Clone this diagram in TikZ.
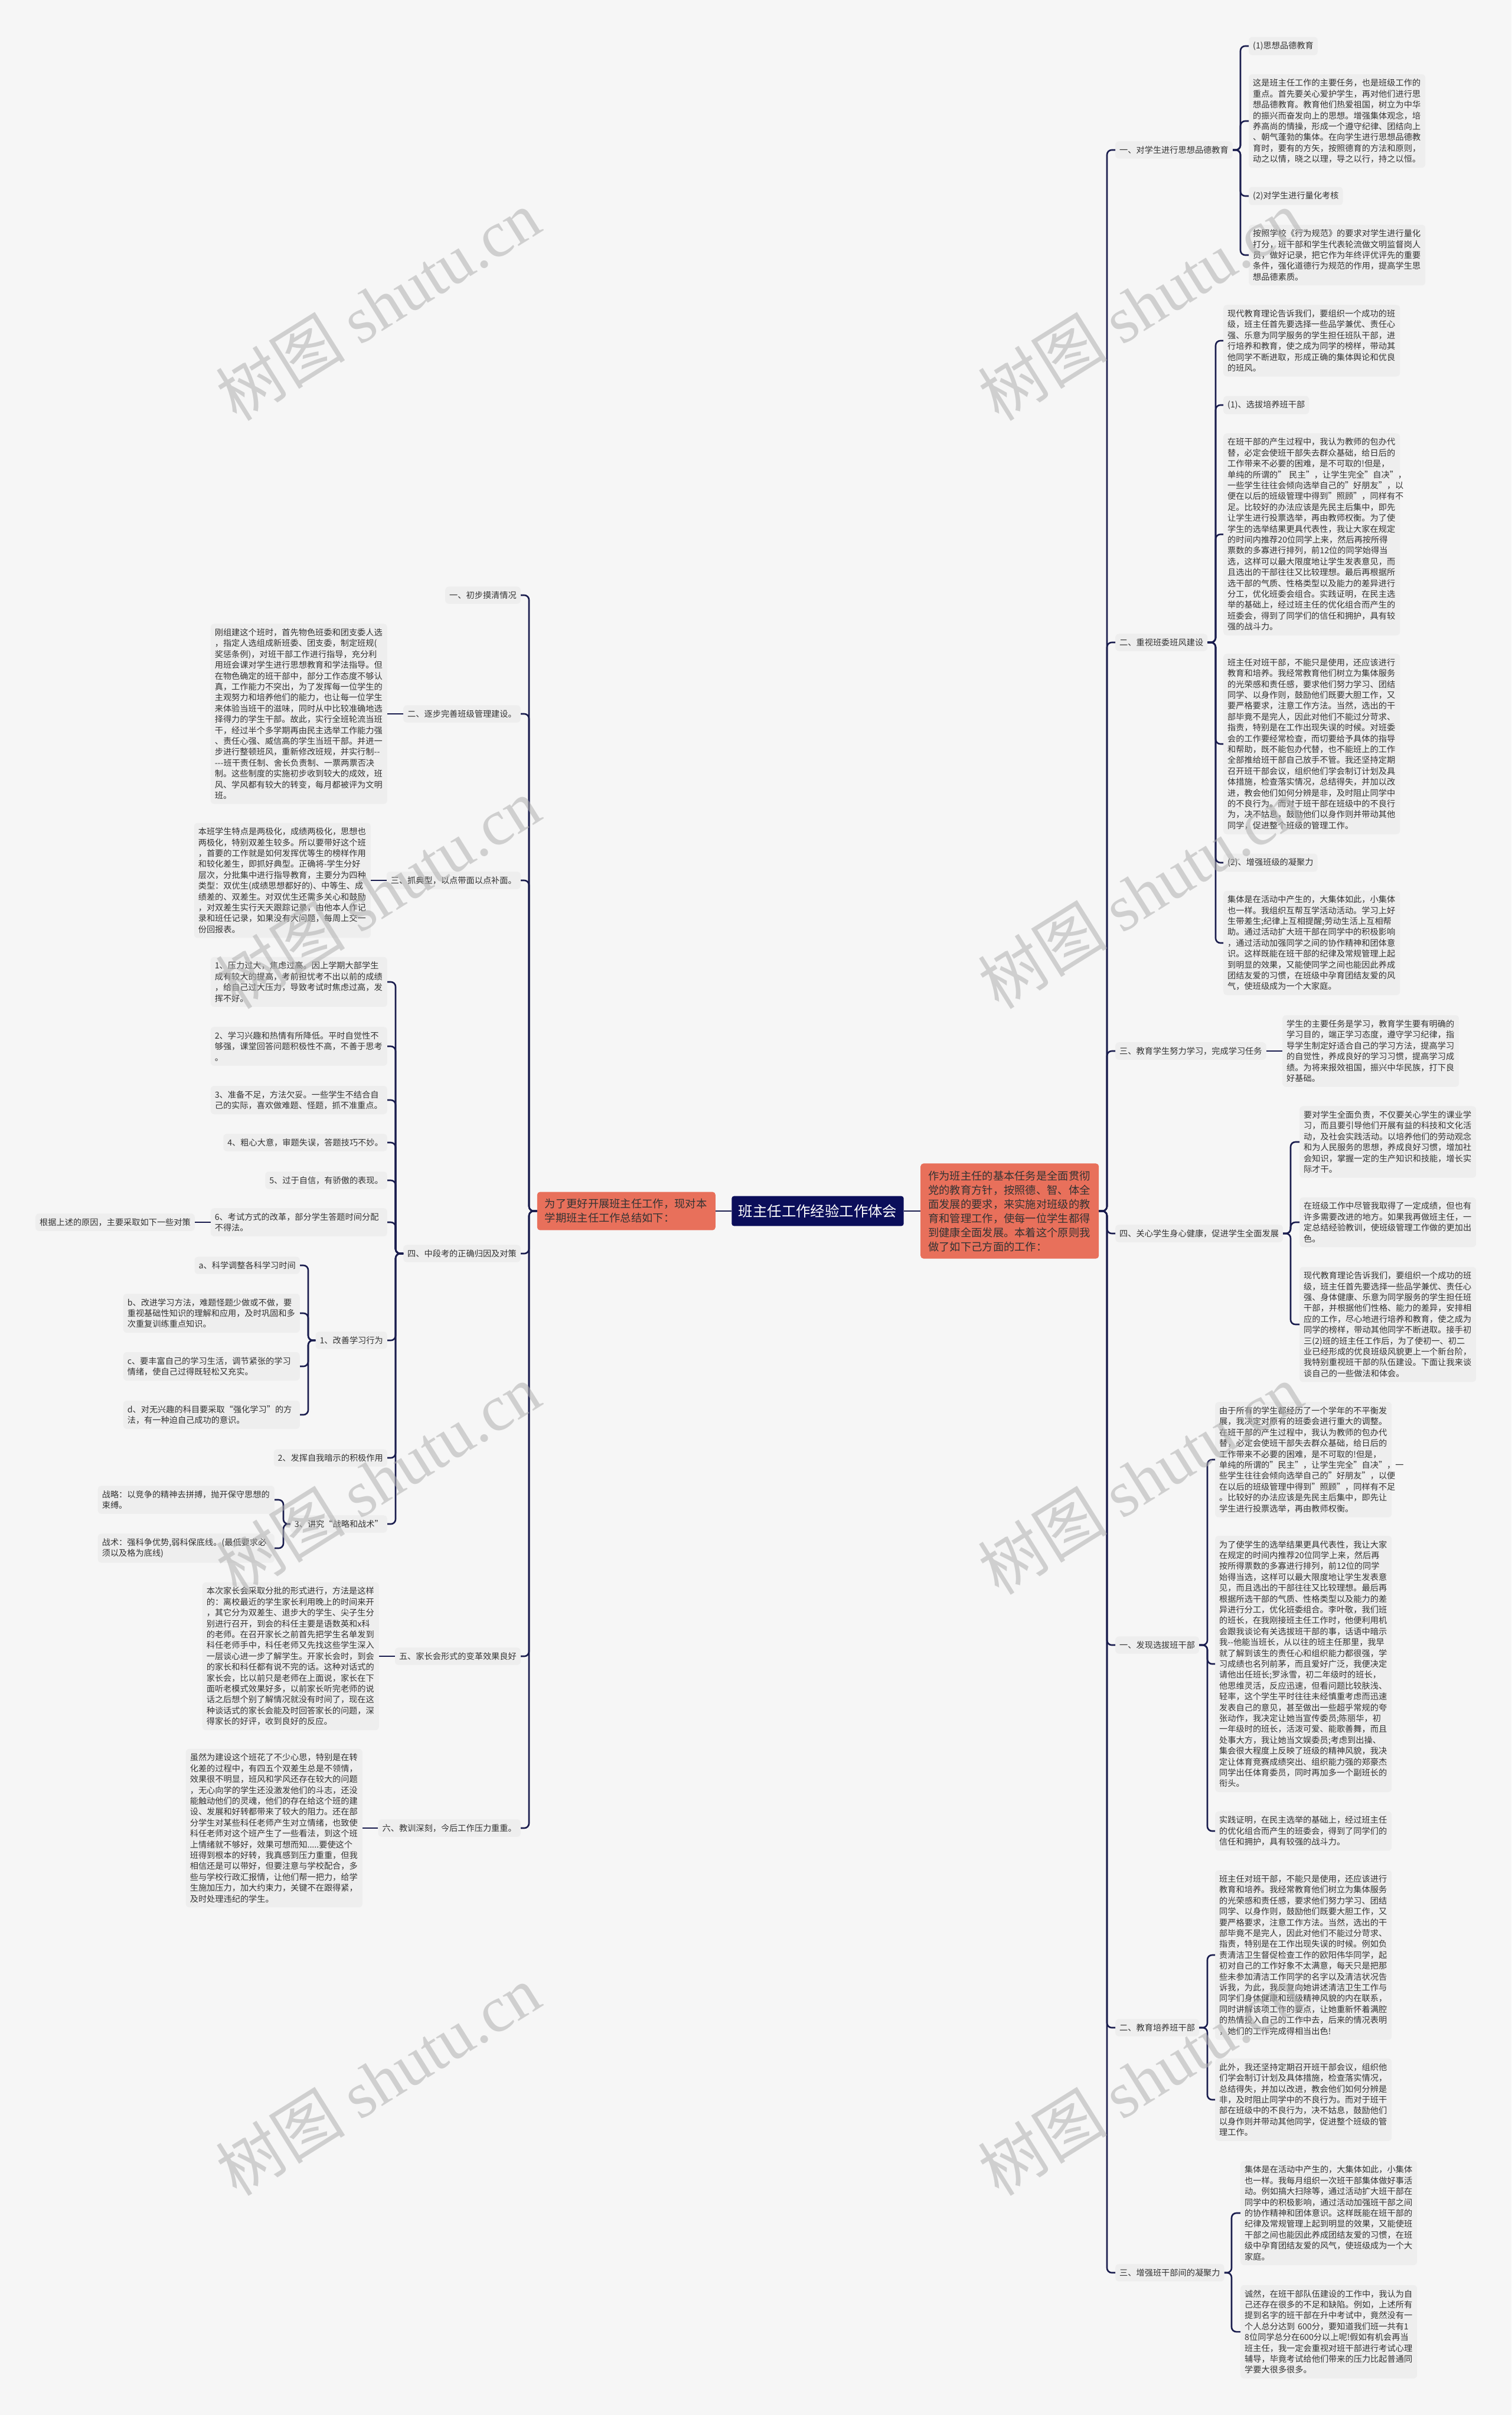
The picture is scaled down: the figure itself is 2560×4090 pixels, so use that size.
\documentclass[tikz,border=0pt]{standalone}
\usepackage{fontspec}
\setmainfont{Noto Sans CJK SC}
\newfontfamily\wmlat{Liberation Serif}
\definecolor{bgc}{HTML}{F6F6F6}
\definecolor{boxc}{HTML}{EEEEEE}
\definecolor{linec}{HTML}{1A1D4E}
\definecolor{navy}{HTML}{0B0E5A}
\definecolor{orng}{HTML}{E8705B}
\definecolor{txtc}{HTML}{333333}
\definecolor{wmc}{HTML}{B0B0B0}
\newcommand\fsA{\fontsize{14.2}{18.4}\selectfont}
\newcommand\fsB{\fontsize{18.3}{24}\selectfont}
\tikzset{
  lbl/.style={fill=boxc, rounded corners=6pt, inner xsep=7pt, inner ysep=8pt, font=\fsA, text=txtc, align=left},
  blk/.style={lbl, text width=285pt},
  conn/.style={draw=linec, line width=2.6pt, rounded corners=8pt},
  obox/.style={fill=orng, rounded corners=5pt, inner xsep=13pt, inner ysep=12pt, font=\fsB, text=txtc, align=left, text width=276pt},
  titlebox/.style={fill=navy, text=white, rounded corners=4pt, inner xsep=11.5pt, inner ysep=14pt, font=\fontsize{24.4}{28}\selectfont},
  wm/.style={text=wmc, opacity=0.55, font=\fontsize{110}{120}\selectfont, rotate=32, inner sep=0pt}
}
\begin{document}
\begin{tikzpicture}[x=1pt,y=-1pt]
\useasboundingbox (0,0) rectangle (2560,4090);
\fill[bgc] (0,0) rectangle (2560,4090);

% spine coordinates
\coordinate (sR) at (1875,0);
\coordinate (sR1) at (2101,0);
\coordinate (sR2) at (2059,0);
\coordinate (sR4) at (2186,0);
\coordinate (sR5) at (2045,0);
\coordinate (sR7) at (2086,0);
\coordinate (sL) at (896,0);
\coordinate (sL4) at (670,0);
\coordinate (sL47) at (522,0);
\coordinate (sL49) at (480,0);

% center
\node[titlebox] (root) at (1385,2051) {班主任工作经验工作体会};
\node[obox, anchor=east] (lo) at (1212,2051) {为了更好开展班主任工作，现对本\\学期班主任工作总结如下：};
\node[obox, anchor=west] (ro) at (1559,2051) {作为班主任的基本任务是全面贯彻\\党的教育方针，按照德、智、体全\\面发展的要求，来实施对班级的教\\育和管理工作，使每一位学生都得\\到健康全面发展。本着这个原则我\\做了如下己方面的工作：};

% ---------------- right side ----------------
\node[lbl, anchor=west] (R1) at (1889,254) {一、对学生进行思想品德教育};
\node[lbl, anchor=west] (r1a) at (2115,78) {(1)思想品德教育};
\node[blk, anchor=west] (r1b) at (2115,205) {这是班主任工作的主要任务，也是班级工作的\\重点。首先要关心爱护学生，再对他们进行思\\想品德教育。教育他们热爱祖国，树立为中华\\的振兴而奋发向上的思想。增强集体观念，培\\养高尚的情操，形成一个遵守纪律、团结向上\\、朝气蓬勃的集体。在向学生进行思想品德教\\育时，要有的方矢，按照德育的方法和原则，\\动之以情，晓之以理，导之以行，持之以恒。};
\node[lbl, anchor=west] (r1c) at (2115,332) {(2)对学生进行量化考核};
\node[blk, anchor=west] (r1d) at (2115,432) {按照学校《行为规范》的要求对学生进行量化\\打分，班干部和学生代表轮流做文明监督岗人\\员，做好记录，把它作为年终评优评先的重要\\条件，强化道德行为规范的作用，提高学生思\\想品德素质。};

\node[lbl, anchor=west] (R2) at (1889,1088) {二、重视班委班风建设};
\node[blk, anchor=west] (r2a) at (2072,577) {现代教育理论告诉我们，要组织一个成功的班\\级，班主任首先要选择一些品学兼优、责任心\\强、乐意为同学服务的学生担任班队干部，进\\行培养和教育，使之成为同学的榜样，带动其\\他同学不断进取，形成正确的集体舆论和优良\\的班风。};
\node[lbl, anchor=west] (r2b) at (2072,686) {(1)、选拔培养班干部};
\node[blk, anchor=west] (r2c) at (2072,905) {在班干部的产生过程中，我认为教师的包办代\\替，必定会使班干部失去群众基础，给日后的\\工作带来不必要的困难，是不可取的!但是，\\单纯的所谓的"~民主"，让学生完全"自决"，\\一些学生往往会倾向选举自己的"好朋友"，以\\便在以后的班级管理中得到"照顾"，同样有不\\足。比较好的办法应该是先民主后集中，即先\\让学生进行投票选举，再由教师权衡。为了使\\学生的选举结果更具代表性，我让大家在规定\\的时间内推荐20位同学上来，然后再按所得\\票数的多寡进行排列，前12位的同学始得当\\选，这样可以最大限度地让学生发表意见，而\\且选出的干部往往又比较理想。最后再根据所\\选干部的气质、性格类型以及能力的差异进行\\分工，优化班委会组合。实践证明，在民主选\\举的基础上，经过班主任的优化组合而产生的\\班委会，得到了同学们的信任和拥护，具有较\\强的战斗力。};
\node[blk, anchor=west] (r2d) at (2072,1260) {班主任对班干部，不能只是使用，还应该进行\\教育和培养。我经常教育他们树立为集体服务\\的光荣感和责任感，要求他们努力学习、团结\\同学、以身作则，鼓励他们既要大胆工作，又\\要严格要求，注意工作方法。当然，选出的干\\部毕竟不是完人，因此对他们不能过分苛求、\\指责，特别是在工作出现失误的时候。对班委\\会的工作要经常检查，而切要给予具体的指导\\和帮助，既不能包办代替，也不能班上的工作\\全部推给班干部自己放手不管。我还坚持定期\\召开班干部会议，组织他们学会制订计划及具\\体措施，检查落实情况，总结得失，并加以改\\进，教会他们如何分辨是非，及时阻止同学中\\的不良行为。而对于班干部在班级中的不良行\\为，决不姑息，鼓励他们以身作则并带动其他\\同学，促进整个班级的管理工作。};
\node[lbl, anchor=west] (r2e) at (2072,1461) {(2)、增强班级的凝聚力};
\node[blk, anchor=west] (r2f) at (2072,1597) {集体是在活动中产生的，大集体如此，小集体\\也一样。我组织互帮互学活动活动。学习上好\\生带差生;纪律上互相提醒;劳动生活上互相帮\\助。通过活动扩大班干部在同学中的积极影响\\，通过活动加强同学之间的协作精神和团体意\\识。这样既能在班干部的纪律及常规管理上起\\到明显的效果，又能使同学之间也能因此养成\\团结友爱的习惯，在班级中孕育团结友爱的风\\气，使班级成为一个大家庭。};

\node[lbl, anchor=west] (R3) at (1889,1780) {三、教育学生努力学习，完成学习任务};
\node[blk, anchor=west] (r3a) at (2172,1780) {学生的主要任务是学习，教育学生要有明确的\\学习目的，端正学习态度，遵守学习纪律，指\\导学生制定好适合自己的学习方法，提高学习\\的自觉性，养成良好的学习习惯，提高学习成\\绩。为将来报效祖国，振兴中华民族，打下良\\好基础。};

\node[lbl, anchor=west] (R4) at (1889,2089) {四、关心学生身心健康，促进学生全面发展};
\node[blk, anchor=west] (r4a) at (2201,1934) {要对学生全面负责，不仅要关心学生的课业学\\习，而且要引导他们开展有益的科技和文化活\\动，及社会实践活动。以培养他们的劳动观念\\和为人民服务的思想，养成良好习惯，增加社\\会知识，掌握一定的生产知识和技能，增长实\\际才干。};
\node[blk, anchor=west] (r4b) at (2201,2070) {在班级工作中尽管我取得了一定成绩，但也有\\许多需要改进的地方。如果我再做班主任，一\\定总结经验教训，使班级管理工作做的更加出\\色。};
\node[blk, anchor=west] (r4c) at (2201,2243) {现代教育理论告诉我们，要组织一个成功的班\\级，班主任首先要选择一些品学兼优、责任心\\强、身体健康、乐意为同学服务的学生担任班\\干部，并根据他们性格、能力的差异，安排相\\应的工作，尽心地进行培养和教育，使之成为\\同学的榜样，带动其他同学不断进取。接手初\\三(2)班的班主任工作后，为了使初一、初二\\业已经形成的优良班级风貌更上一个新台阶，\\我特别重视班干部的队伍建设。下面让我来谈\\谈自己的一些做法和体会。};

\node[lbl, anchor=west] (R5) at (1889,2786) {一、发现选拔班干部};
\node[blk, anchor=west] (r5a) at (2058,2472) {由于所有的学生都经历了一个学年的不平衡发\\展，我决定对原有的班委会进行重大的调整。\\在班干部的产生过程中，我认为教师的包办代\\替，必定会使班干部失去群众基础，给日后的\\工作带来不必要的困难，是不可取的!但是，\\单纯的所谓的"民主"，让学生完全"自决"，一\\些学生往往会倾向选举自己的"好朋友"，以便\\在以后的班级管理中得到"照顾"，同样有不足\\。比较好的办法应该是先民主后集中，即先让\\学生进行投票选举，再由教师权衡。};
\node[blk, anchor=west] (r5b) at (2058,2818) {为了使学生的选举结果更具代表性，我让大家\\在规定的时间内推荐20位同学上来，然后再\\按所得票数的多寡进行排列，前12位的同学\\始得当选，这样可以最大限度地让学生发表意\\见，而且选出的干部往往又比较理想。最后再\\根据所选干部的气质、性格类型以及能力的差\\异进行分工，优化班委组合。李叶敬，我们班\\的班长，在我刚接班主任工作时，他便利用机\\会跟我谈论有关选拔班干部的事，话语中暗示\\我-{}-他能当班长，从以往的班主任那里，我早\\就了解到该生的责任心和组织能力都很强，学\\习成绩也名列前茅，而且爱好广泛，我便决定\\请他出任班长;罗泳雪，初二年级时的班长，\\他思维灵活，反应迅速，但看问题比较肤浅、\\轻率，这个学生平时往往未经慎重考虑而迅速\\发表自己的意见，甚至做出一些超乎常规的夸\\张动作，我决定让她当宣传委员;陈丽华，初\\一年级时的班长，活泼可爱、能歌善舞，而且\\处事大方，我让她当文娱委员;考虑到出操、\\集会很大程度上反映了班级的精神风貌，我决\\定让体育竞赛成绩突出、组织能力强的郑豪杰\\同学出任体育委员，同时再加多一个副班长的\\衔头。};
\node[blk, anchor=west] (r5c) at (2058,3101) {实践证明，在民主选举的基础上，经过班主任\\的优化组合而产生的班委会，得到了同学们的\\信任和拥护，具有较强的战斗力。};

\node[lbl, anchor=west] (R6) at (1889,3434) {二、教育培养班干部};
\node[blk, anchor=west] (r6a) at (2058,3311) {班主任对班干部，不能只是使用，还应该进行\\教育和培养。我经常教育他们树立为集体服务\\的光荣感和责任感，要求他们努力学习、团结\\同学、以身作则，鼓励他们既要大胆工作，又\\要严格要求，注意工作方法。当然，选出的干\\部毕竟不是完人，因此对他们不能过分苛求、\\指责，特别是在工作出现失误的时候。例如负\\责清洁卫生督促检查工作的欧阳伟华同学，起\\初对自己的工作好象不太满意，每天只是把那\\些未参加清洁工作同学的名字以及清洁状况告\\诉我，为此，我反复向她讲述清洁卫生工作与\\同学们身体健康和班级精神风貌的内在联系，\\同时讲解该项工作的要点，让她重新怀着满腔\\的热情投入自己的工作中去，后来的情况表明\\，她们的工作完成得相当出色!};
\node[blk, anchor=west] (r6b) at (2058,3556) {此外，我还坚持定期召开班干部会议，组织他\\们学会制订计划及具体措施，检查落实情况，\\总结得失，并加以改进，教会他们如何分辨是\\非，及时阻止同学中的不良行为。而对于班干\\部在班级中的不良行为，决不姑息，鼓励他们\\以身作则并带动其他同学，促进整个班级的管\\理工作。};

\node[lbl, anchor=west] (R7) at (1889,3849) {三、增强班干部间的凝聚力};
\node[blk, anchor=west] (r7a) at (2101,3748) {集体是在活动中产生的，大集体如此，小集体\\也一样。我每月组织一次班干部集体做好事活\\动。例如搞大扫除等，通过活动扩大班干部在\\同学中的积极影响，通过活动加强班干部之间\\的协作精神和团体意识。这样既能在班干部的\\纪律及常规管理上起到明显的效果，又能使班\\干部之间也能因此养成团结友爱的习惯，在班\\级中孕育团结友爱的风气，使班级成为一个大\\家庭。};
\node[blk, anchor=west] (r7b) at (2101,3949) {诚然，在班干部队伍建设的工作中，我认为自\\己还存在很多的不足和缺陷。例如，上述所有\\提到名字的班干部在升中考试中，竟然没有一\\个人总分达到~600分，要知道我们班一共有1\\8位同学总分在600分以上呢!假如有机会再当\\班主任，我一定会重视对班干部进行考试心理\\辅导，毕竟考试给他们带来的压力比起普通同\\学要大很多很多。};

% ---------------- left side ----------------
\node[lbl, anchor=east] (L1) at (882,1008) {一、初步摸清情况};
\node[lbl, anchor=east] (L2) at (882,1209) {二、逐步完善班级管理建设。};
\node[blk, anchor=east] (L2b) at (656,1209) {刚组建这个班时，首先物色班委和团支委人选\\，指定人选组成新班委、团支委，制定班规(\\奖惩条例)，对班干部工作进行指导，充分利\\用班会课对学生进行思想教育和学法指导。但\\在物色确定的班干部中，部分工作态度不够认\\真，工作能力不突出，为了发挥每一位学生的\\主观努力和培养他们的能力，也让每一位学生\\来体验当班干的滋味，同时从中比较准确地选\\择得力的学生干部。故此，实行全班轮流当班\\干，经过半个多学期再由民主选举工作能力强\\、责任心强、威信高的学生当班干部。并进一\\步进行整顿班风，重新修改班规，并实行制-{}-\\-{}-{}-班干责任制、舍长负责制、一票两票否决\\制。这些制度的实施初步收到较大的成效，班\\风、学风都有较大的转变，每月都被评为文明\\班。};
\node[lbl, anchor=east] (L3) at (882,1491) {三、抓典型，以点带面以点补面。};
\node[blk, anchor=east] (L3b) at (628,1491) {本班学生特点是两极化，成绩两极化，思想也\\两极化，特别双差生较多。所以要带好这个班\\，首要的工作就是如何发挥优等生的榜样作用\\和较化差生，即抓好典型。正确将-学生分好\\层次，分批集中进行指导教育，主要分为四种\\类型：双优生(成绩思想都好的)、中等生、成\\绩差的、双差生。对双优生还需多关心和鼓励\\，对双差生实行天天跟踪记录，由他本人作记\\录和班任记录，如果没有大问题，每周上交一\\份回报表。};

\node[lbl, anchor=east] (L4) at (882,2123) {四、中段考的正确归因及对策};
\node[blk, anchor=east] (l41) at (656,1663) {1、压力过大，焦虑过高。因上学期大部学生\\成有较大的提高，考前担忧考不出以前的成绩\\，给自己过大压力，导致考试时焦虑过高，发\\挥不好。};
\node[blk, anchor=east] (l42) at (656,1772) {2、学习兴趣和热情有所降低。平时自觉性不\\够强，课堂回答问题积极性不高，不善于思考\\。};
\node[blk, anchor=east] (l43) at (656,1863) {3、准备不足，方法欠妥。一些学生不结合自\\己的实际，喜欢做难题、怪题，抓不准重点。};
\node[lbl, anchor=east] (l44) at (656,1935) {4、粗心大意，审题失误，答题技巧不妙。};
\node[lbl, anchor=east] (l45) at (656,1999) {5、过于自信，有骄傲的表现。};
\node[blk, anchor=east] (l46) at (656,2070) {6、考试方式的改革，部分学生答题时间分配\\不得法。};
\node[lbl, anchor=east] (l46a) at (330,2070) {根据上述的原因，主要采取如下一些对策};
\node[lbl, anchor=east] (l47) at (656,2270) {1、改善学习行为};
\node[lbl, anchor=east] (l47a) at (508,2143) {a、科学调整各科学习时间};
\node[blk, anchor=east] (l47b) at (508,2224) {b、改进学习方法，难题怪题少做或不做，要\\重视基础性知识的理解和应用，及时巩固和多\\次重复训练重点知识。};
\node[blk, anchor=east] (l47c) at (508,2314) {c、要丰富自己的学习生活，调节紧张的学习\\情绪，使自己过得既轻松又充实。};
\node[blk, anchor=east] (l47d) at (508,2396) {d、对无兴趣的科目要采取“强化学习”的方\\法，有一种迫自己成功的意识。};
\node[lbl, anchor=east] (l48) at (656,2469) {2、发挥自我暗示的积极作用};
\node[lbl, anchor=east] (l49) at (656,2581) {3、讲究“战略和战术”};
\node[blk, anchor=east] (l49a) at (465,2540) {战略：以竞争的精神去拼搏，抛开保守思想的\\束缚。};
\node[blk, anchor=east] (l49b) at (465,2622) {战术：强科争优势,弱科保底线。(最低要求必\\须以及格为底线)};

\node[lbl, anchor=east] (L5) at (882,2805) {五、家长会形式的变革效果良好};
\node[blk, anchor=east] (L5b) at (642,2805) {本次家长会采取分批的形式进行，方法是这样\\的：离校最近的学生家长利用晚上的时间来开\\，其它分为双差生、退步大的学生、尖子生分\\别进行召开，到会的科任主要是语数英和x科\\的老师。在召开家长之前首先把学生名单发到\\科任老师手中，科任老师又先找这些学生深入\\一层谈心进一步了解学生。开家长会时，到会\\的家长和科任都有说不完的话。这种对话式的\\家长会，比以前只是老师在上面说，家长在下\\面听老模式效果好多，以前家长听完老师的说\\话之后想个别了解情况就没有时间了，现在这\\种谈话式的家长会能及时回答家长的问题，深\\得家长的好评，收到良好的反应。};
\node[lbl, anchor=east] (L6) at (882,3096) {六、教训深刻，今后工作压力重重。};
\node[blk, anchor=east] (L6b) at (614,3096) {虽然为建设这个班花了不少心思，特别是在转\\化差的过程中，有四五个双差生总是不领情，\\效果很不明显，班风和学风还存在较大的问题\\，无心向学的学生还没激发他们的斗志，还没\\能触动他们的灵魂，他们的存在给这个班的建\\设、发展和好转都带来了较大的阻力。还在部\\分学生对某些科任老师产生对立情绪，也致使\\科任老师对这个班产生了一些看法，到这个班\\上情绪就不够好，效果可想而知.....要使这个\\班得到根本的好转，我真感到压力重重，但我\\相信还是可以带好，但要注意与学校配合，多\\些与学校行政汇报情，让他们帮一把力，给学\\生施加压力，加大约束力，关键不在跟得紧，\\及时处理违纪的学生。};

% ---------------- connectors ----------------
\draw[conn] (root.west) -- (lo.east);
\draw[conn] (root.east) -- (ro.west);
\foreach \c in {R1,R2,R3,R4,R5,R6,R7}
  \draw[conn] (ro.east) -- (ro.east -| sR) |- (\c.west);
\foreach \c in {r1a,r1b,r1c,r1d}
  \draw[conn] (R1.east) -- (R1.east -| sR1) |- (\c.west);
\foreach \c in {r2a,r2b,r2c,r2d,r2e,r2f}
  \draw[conn] (R2.east) -- (R2.east -| sR2) |- (\c.west);
\draw[conn] (R3.east) -- (r3a.west);
\foreach \c in {r4a,r4b,r4c}
  \draw[conn] (R4.east) -- (R4.east -| sR4) |- (\c.west);
\foreach \c in {r5a,r5b,r5c}
  \draw[conn] (R5.east) -- (R5.east -| sR5) |- (\c.west);
\foreach \c in {r6a,r6b}
  \draw[conn] (R6.east) -- (R6.east -| sR5) |- (\c.west);
\foreach \c in {r7a,r7b}
  \draw[conn] (R7.east) -- (R7.east -| sR7) |- (\c.west);

\foreach \c in {L1,L2,L3,L4,L5,L6}
  \draw[conn] (lo.west) -- (lo.west -| sL) |- (\c.east);
\draw[conn] (L2.west) -- (L2b.east);
\draw[conn] (L3.west) -- (L3b.east);
\draw[conn] (L5.west) -- (L5b.east);
\draw[conn] (L6.west) -- (L6b.east);
\foreach \c in {l41,l42,l43,l44,l45,l46,l47,l48,l49}
  \draw[conn] (L4.west) -- (L4.west -| sL4) |- (\c.east);
\draw[conn] (l46.west) -- (l46a.east);
\foreach \c in {l47a,l47b,l47c,l47d}
  \draw[conn] (l47.west) -- (l47.west -| sL47) |- (\c.east);
\foreach \c in {l49a,l49b}
  \draw[conn] (l49.west) -- (l49.west -| sL49) |- (\c.east);

% ---------------- watermarks ----------------
\node[wm] (wm1) at (640,517) {树图 {\wmlat shutu.cn}};
\node[wm] (wm2) at (1931,517) {树图 {\wmlat shutu.cn}};
\node[wm] (wm3) at (640,1513) {树图 {\wmlat shutu.cn}};
\node[wm] (wm4) at (1931,1513) {树图 {\wmlat shutu.cn}};
\node[wm] (wm5) at (640,2505) {树图 {\wmlat shutu.cn}};
\node[wm] (wm6) at (1931,2505) {树图 {\wmlat shutu.cn}};
\node[wm] (wm7) at (640,3523) {树图 {\wmlat shutu.cn}};
\node[wm] (wm8) at (1931,3523) {树图 {\wmlat shutu.cn}};
\end{tikzpicture}
\end{document}
